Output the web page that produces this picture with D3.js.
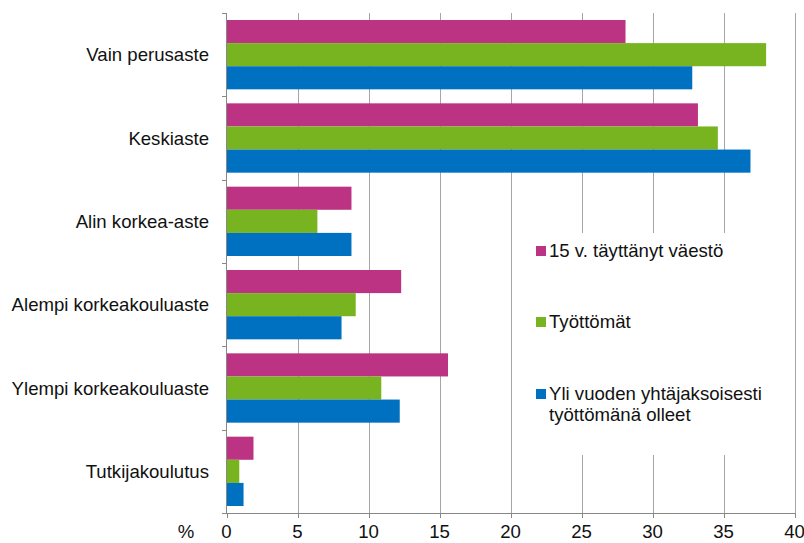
<!DOCTYPE html>
<html><head><meta charset="utf-8">
<script src="https://cdn.jsdelivr.net/npm/d3@7"></script>
<style>body{margin:0;background:#fff}svg{display:block}text{font-family:"Liberation Sans",Arial,sans-serif;fill:#111}</style>
</head><body><div id="chart"></div>
<script>
const categories = ["Vain perusaste","Keskiaste","Alin korkea-aste","Alempi korkeakouluaste","Ylempi korkeakouluaste","Tutkijakoulutus"];
const seriesNames = ["15 v. täyttänyt väestö","Työttömät","Yli vuoden yhtäjaksoisesti työttömänä olleet"];
const legendLines = [["15 v. täyttänyt väestö"],["Työttömät"],["Yli vuoden yhtäjaksoisesti","työttömänä olleet"]];
const popValues = [28.1, 33.2, 8.8, 12.3, 15.6, 1.9];
const unempValues = [38.0, 34.6, 6.4, 9.1, 10.9, 0.9];
const longValues = [32.8, 36.9, 8.8, 8.1, 12.2, 1.2];
const xTicks = [0,5,10,15,20,25,30,35,40];
const colors = ["#BC3384","#78B420","#0070C0"];

const W=804,H=543;
const FS=18.6;
const svg=d3.select("#chart").append("svg").attr("width",W).attr("height",H);
const x=d3.scaleLinear().domain([0,40]).range([226.5,794.5]);
const y=d3.scaleBand().domain(categories).range([13,513]).paddingInner(0.168).paddingOuter(0.084);
const ys=d3.scaleBand().domain(seriesNames).range([0,y.bandwidth()]);
const values=[popValues,unempValues,longValues];

// gridlines
svg.append("g").selectAll("line").data(xTicks.slice(1)).join("line")
 .attr("x1",d=>Math.round(x(d))+0.5).attr("x2",d=>Math.round(x(d))+0.5)
 .attr("y1",13).attr("y2",513).attr("stroke","#a6a6a6").attr("stroke-width",1);

// bars
seriesNames.forEach((s,si)=>{
  svg.append("g").selectAll("rect").data(categories).join("rect")
   .attr("x",x(0)).attr("y",c=>y(c)+ys(s))
   .attr("width",(c,i)=>x(values[si][i])-x(0)).attr("height",ys.bandwidth())
   .attr("fill",colors[si]);
});

// left axis
const step=y.step();
const bounds=d3.range(categories.length+1).map(i=>13+i*step);
svg.append("line").attr("x1",226.5).attr("x2",226.5).attr("y1",13).attr("y2",513).attr("stroke","#888");
svg.append("g").selectAll("line").data(bounds).join("line")
 .attr("x1",222).attr("x2",226.5).attr("y1",d=>Math.round(d)+0.5).attr("y2",d=>Math.round(d)+0.5).attr("stroke","#888");
svg.append("g").selectAll("text").data(categories).join("text")
 .attr("x",209).attr("y",c=>y(c)+y.bandwidth()/2).attr("dy","0.35em")
 .attr("text-anchor","end").attr("font-size",FS).text(c=>c);

// bottom axis
svg.append("line").attr("x1",222).attr("x2",795).attr("y1",513.5).attr("y2",513.5).attr("stroke","#888");
svg.append("g").selectAll("line").data(xTicks).join("line")
 .attr("x1",d=>Math.round(x(d))+0.5).attr("x2",d=>Math.round(x(d))+0.5).attr("y1",513).attr("y2",518).attr("stroke","#888");
svg.append("g").selectAll("text").data(xTicks).join("text")
 .attr("x",d=>x(d)).attr("y",538).attr("text-anchor","middle").attr("font-size",FS).text(d=>d);
svg.append("text").attr("x",186).attr("y",538).attr("text-anchor","middle").attr("font-size",FS).text("%");

// legend
const lg=svg.append("g");
lg.append("rect").attr("x",515).attr("y",233).attr("width",275).attr("height",222).attr("fill","#fff");
const legY=[246,317,389];
legendLines.forEach((lines,i)=>{
  lg.append("rect").attr("x",536).attr("y",legY[i]).attr("width",10).attr("height",10).attr("fill",colors[i]);
  lines.forEach((t,j)=>{
    lg.append("text").attr("x",549).attr("y",legY[i]+11+j*21).attr("font-size",FS).text(t);
  });
});
</script></body></html>
